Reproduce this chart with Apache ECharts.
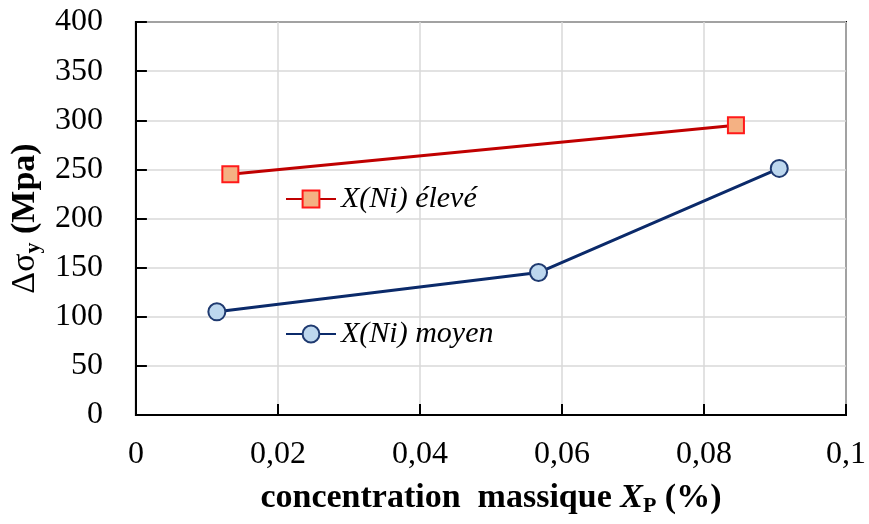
<!DOCTYPE html>
<html>
<head>
<meta charset="utf-8">
<script src="https://cdn.jsdelivr.net/npm/echarts@6/dist/echarts.min.js"></script>
<style>
  html, body { margin: 0; padding: 0; background: #ffffff; }
  #chart { width: 869px; height: 524px; }
</style>
</head>
<body>
<div id="chart"></div>
<script>
// Phosphorus mass concentration (%) vs yield-strength increment (MPa)
const seriesNames = ['X(Ni) élevé', 'X(Ni) moyen'];
const xEleve = [0.0133, 0.0845];
const yEleve = [245, 295];
const xMoyen = [0.0114, 0.0567, 0.0906];
const yMoyen = [105, 145, 251];
const xTicks = { min: 0, max: 0.1, interval: 0.02 };
const yTicks = { min: 0, max: 400, interval: 50 };

const FONT = 'Liberation Serif';

function pairs(xs, ys) {
  return xs.map((x, i) => [x, ys[i]]);
}

const chart = echarts.init(document.getElementById('chart'), null, { renderer: 'canvas' });

chart.setOption({
  backgroundColor: '#ffffff',
  animation: false,
  textStyle: { fontFamily: FONT },
  grid: {
    left: 135, right: 21, top: 22, bottom: 109,
    show: true,
    borderColor: '#000000',
    borderWidth: 2,
    backgroundColor: 'transparent'
  },
  legend: [
    {
      data: [seriesNames[0]],
      left: 285, top: 184, padding: 0,
      itemWidth: 50, itemHeight: 21,
      textStyle: { fontFamily: FONT, fontSize: 30, fontStyle: 'italic', color: '#000000' }
    },
    {
      data: [seriesNames[1]],
      left: 285, top: 319, padding: 0,
      itemWidth: 50, itemHeight: 21,
      textStyle: { fontFamily: FONT, fontSize: 30, fontStyle: 'italic', color: '#000000' }
    }
  ],
  xAxis: {
    type: 'value',
    min: xTicks.min, max: xTicks.max, interval: xTicks.interval,
    name: '{b|concentration  massique }{bi|X}{sub|P}{b| (%)}',
    nameLocation: 'middle',
    nameGap: 64,
    nameTextStyle: {
      color: '#000000',
      fontFamily: FONT,
      rich: {
        b: { fontFamily: FONT, fontSize: 34, fontWeight: 'bold', color: '#000', lineHeight: 38 },
        bi: { fontFamily: FONT, fontSize: 34, fontWeight: 'bold', fontStyle: 'italic', color: '#000', lineHeight: 38 },
        sub: { fontFamily: FONT, fontSize: 22, fontWeight: 'bold', color: '#000', lineHeight: 38, verticalAlign: 'bottom' }
      }
    },
    axisLine: { show: true, lineStyle: { color: '#000000', width: 2 } },
    axisTick: { show: true, inside: true, length: 11, lineStyle: { color: '#000000', width: 2 } },
    axisLabel: {
      margin: 24,
      fontFamily: FONT, fontSize: 32, color: '#000000',
      formatter: v => String(Number(v.toFixed(4))).replace('.', ',')
    },
    splitLine: { show: true, lineStyle: { color: '#d9d9d9', width: 1.5 } }
  },
  yAxis: {
    type: 'value',
    min: yTicks.min, max: yTicks.max, interval: yTicks.interval,
    name: '{g|Δσ}{sub|y}{a| (Mpa)}',
    nameLocation: 'middle',
    nameRotate: 90,
    nameGap: 88,
    nameTextStyle: {
      color: '#000000',
      fontFamily: FONT,
      rich: {
        g: { fontFamily: FONT, fontSize: 34, fontWeight: 'normal', color: '#000', lineHeight: 38 },
        a: { fontFamily: FONT, fontSize: 34, fontWeight: 'bold', color: '#000', lineHeight: 38 },
        sub: { fontFamily: FONT, fontSize: 22, fontWeight: 'bold', color: '#000', lineHeight: 38, verticalAlign: 'bottom' }
      }
    },
    axisLine: { show: true, lineStyle: { color: '#000000', width: 2 } },
    axisTick: { show: true, inside: true, length: 11, lineStyle: { color: '#000000', width: 2 } },
    axisLabel: {
      margin: 33,
      fontFamily: FONT, fontSize: 32, color: '#000000'
    },
    splitLine: { show: true, lineStyle: { color: '#d9d9d9', width: 1.5 } }
  },
  series: [
    {
      name: seriesNames[0],
      type: 'line',
      data: pairs(xEleve, yEleve),
      symbol: 'rect',
      symbolSize: 16,
      lineStyle: { color: '#c00000', width: 3 },
      itemStyle: { color: '#f4b183', borderColor: '#ff1a1a', borderWidth: 2 },
      z: 3
    },
    {
      name: seriesNames[1],
      type: 'line',
      data: pairs(xMoyen, yMoyen),
      symbol: 'circle',
      symbolSize: 17,
      lineStyle: { color: '#0b2a6a', width: 3 },
      itemStyle: { color: '#bdd7ee', borderColor: '#1f3a70', borderWidth: 2 },
      z: 3
    }
  ]
});
</script>
</body>
</html>
